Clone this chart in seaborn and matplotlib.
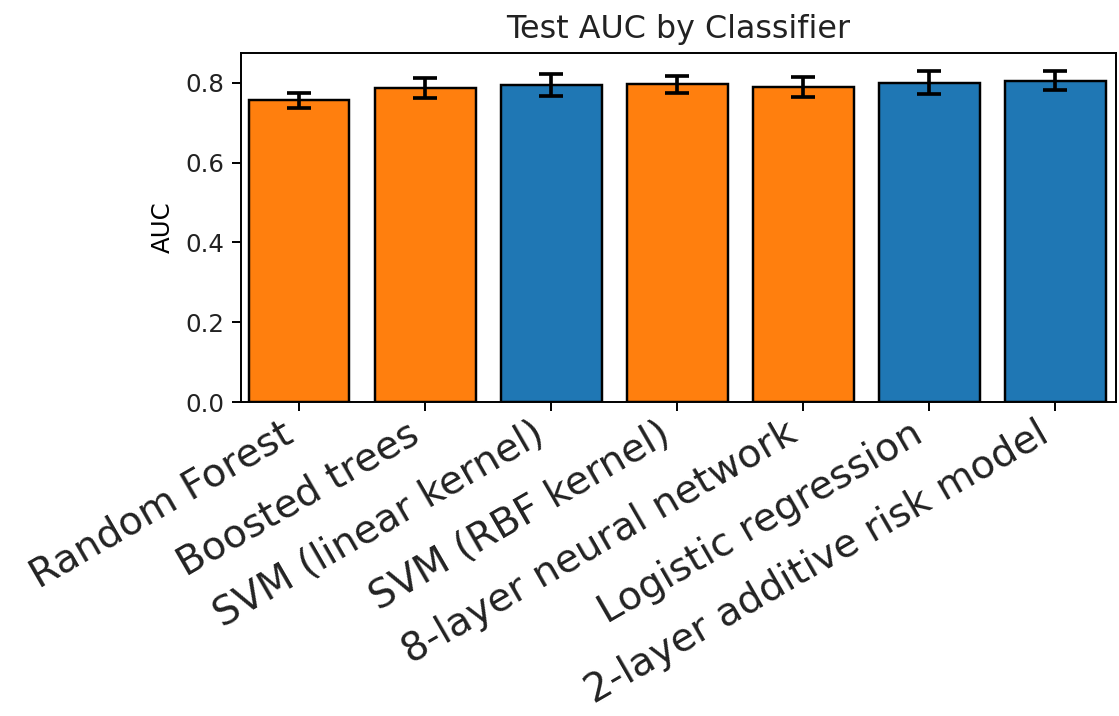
import numpy as np
import pandas as pd
import matplotlib
matplotlib.use("Agg")
import matplotlib.pyplot as plt
import seaborn as sns

# Test-set AUC (mean and half-width of the error bar) per classifier
classifiers = [
    "Random Forest",
    "Boosted trees",
    "SVM (linear kernel)",
    "SVM (RBF kernel)",
    "8-layer neural network",
    "Logistic regression",
    "2-layer additive risk model",
]
auc_mean = [0.756, 0.787, 0.795, 0.796, 0.790, 0.800, 0.805]
auc_err = [0.018, 0.026, 0.027, 0.022, 0.025, 0.029, 0.024]
model_kind = ["black box", "black box", "interpretable", "black box",
              "black box", "interpretable", "interpretable"]
kind_colors = {"interpretable": "#1f77b4", "black box": "#ff7f0e"}

plt.style.use("default")
plt.rcParams["text.color"] = "#222222"
plt.rcParams["xtick.labelcolor"] = "#222222"
plt.rcParams["ytick.labelcolor"] = "#222222"

df = pd.DataFrame({
    "classifier": classifiers,
    "auc": auc_mean,
    "err": auc_err,
    "kind": model_kind,
})

fig = plt.figure(figsize=(1119 / 176, 716 / 176), dpi=176)
ax = fig.add_axes([0.2154, 0.4385, 0.9973 - 0.2154, 0.926 - 0.4385])

sns.barplot(
    data=df, x="classifier", y="auc", hue="kind",
    palette=kind_colors, saturation=1, dodge=False, errorbar=None,
    edgecolor="black", linewidth=1.0, width=0.8, legend=False, ax=ax,
)

ax.errorbar(
    np.arange(len(classifiers)), df["auc"], yerr=df["err"],
    fmt="none", ecolor="black", elinewidth=1.5, capsize=5, capthick=1.5,
)

ax.set_xlim(-0.46, 6.48)
ax.set_ylim(0, 0.875)
ax.set_yticks([0.0, 0.2, 0.4, 0.6, 0.8])
ax.set_xlabel("")
ax.set_ylabel("AUC", fontsize=10)
ax.set_title("Test AUC by Classifier", fontsize=13)
ax.tick_params(axis="y", labelsize=10)
ax.tick_params(axis="x", pad=1.5)
plt.setp(ax.get_xticklabels(), rotation=30, ha="right", fontsize=16.1)

fig.savefig("out.png", dpi=176)
